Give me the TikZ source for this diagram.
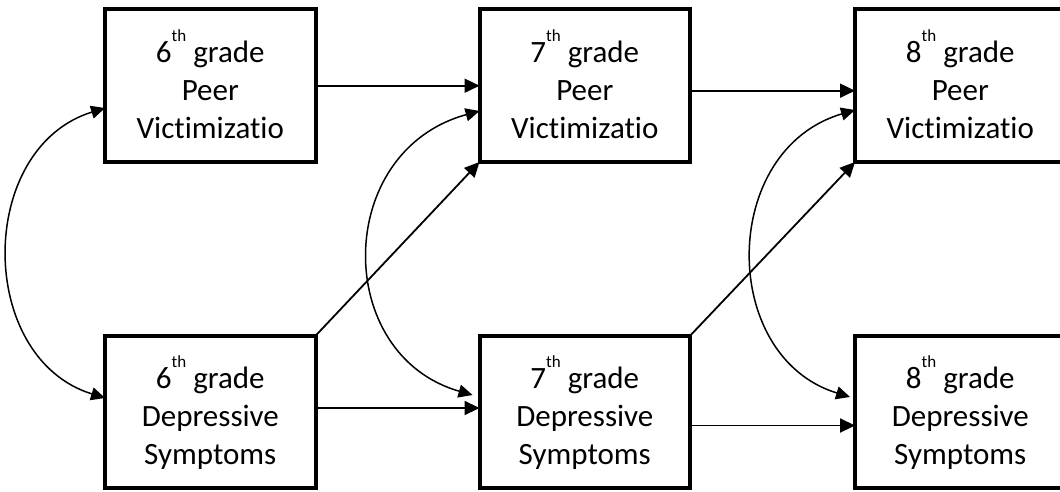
\documentclass[tikz,border=0pt]{standalone}
\usepackage{fontspec}
\setmainfont{Carlito}[Ligatures={NoCommon,NoContextual}]
\usetikzlibrary{arrows.meta}
\newcommand\Ls{\rule[-4.5pt]{0pt}{38pt}}
\newcommand\gradeline[1]{\Ls\smash{#1\raisebox{21pt}{\fontsize{17}{17}\selectfont th} grade}}
\newcommand\textline[1]{\Ls\smash{#1}}
\begin{document}
\begin{tikzpicture}[x=1pt,y=-1pt,
  box/.style={draw, line width=4pt, minimum width=210.5pt, minimum height=152.5pt,
    inner sep=0pt, outer sep=0pt, align=center, font=\fontsize{31}{38}\selectfont},
  pth/.style={line width=1.8pt, -{Triangle[length=15pt,width=14pt]}},
  cov/.style={line width=1.5pt, {Triangle[length=14pt,width=13pt]}-{Triangle[length=14pt,width=13pt]}},
]
\useasboundingbox (0,0) rectangle (1060,491);
\clip (0,0) rectangle (1060,491);

\node[box] (p6) at (210.3,85.7) {\gradeline{6}\\\textline{Peer}\\\textline{Victimizatio}};
\node[box] (p7) at (584.8,85.7) {\gradeline{7}\\\textline{Peer}\\\textline{Victimizatio}};
\node[box] (p8) at (960.3,85.7) {\gradeline{8}\\\textline{Peer}\\\textline{Victimizatio}};
\node[box] (d6) at (210.3,412) {\gradeline{6}\\\textline{Depressive}\\\textline{Symptoms}};
\node[box] (d7) at (584.8,412) {\gradeline{7}\\\textline{Depressive}\\\textline{Symptoms}};
\node[box] (d8) at (960.3,412) {\gradeline{8}\\\textline{Depressive}\\\textline{Symptoms}};

% stability paths
\draw[pth] (p6.east) -- (p7.west);
\draw[pth] ([yshift=-5pt]p7.east) -- ([yshift=-5pt]p8.west);
\draw[pth] ([yshift=4pt]d6.east) -- ([yshift=4pt]d7.west);
\draw[pth] ([yshift=-13.5pt]d7.east) -- ([yshift=-13.5pt]d8.west);

% cross-lagged paths
\draw[pth] (d6.north east) -- (p7.south west);
\draw[pth] (d7.north east) -- (p8.south west);

% covariances
\draw[cov] ([yshift=-22.3pt]p6.west) .. controls +(-129,40) and +(-129,-40) .. ([yshift=14pt]d6.west);
\draw[cov] ([yshift=-25.3pt]p7.west) .. controls +(-146,40) and +(-140,-40) .. ([xshift=-7pt,yshift=17pt]d7.west);
\draw[cov] ([yshift=-24.3pt]p8.west) .. controls +(-136,40) and +(-131,-40) .. ([xshift=-5pt,yshift=15pt]d8.west);
\end{tikzpicture}
\end{document}
